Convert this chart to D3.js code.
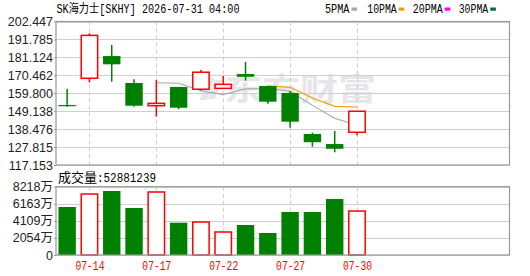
<!DOCTYPE html>
<html><head><meta charset="utf-8">
<script src="https://cdn.jsdelivr.net/npm/d3@7"></script>
<style>
html,body{margin:0;padding:0;background:#fff;}
svg{display:block;}
</style></head>
<body>
<svg id="c" width="530" height="276"></svg>
<script>
const dates  = ["07-13","07-14","07-15","07-16","07-17","07-20","07-21","07-22","07-23","07-24","07-27","07-28","07-29","07-30"];
const open   = [152.8,168.7,181.9,165.9,152.4,163.5,162.2,162.7,171.2,164.1,160.0,135.6,129.6,136.6];
const close  = [152.5,194.2,177.0,152.4,153.8,151.2,172.3,165.1,169.6,154.8,142.9,130.7,126.8,149.1];
const high   = [162.3,195.4,188.5,168.1,167.7,163.6,173.6,170.1,178.4,164.3,161.1,136.4,137.4,149.1];
const low    = [151.8,166.3,166.7,151.8,145.9,150.3,161.3,162.7,167.3,153.6,139.3,128.0,124.7,134.8];
const volume = [5775,7339,7700,5655,7580,3886,3970,2767,3609,2647,5173,5173,6737,5288]; // 万
const ma5    = [null,null,null,null,166.0,165.7,161.3,159.0,162.4,162.6,160.9,152.6,145.0,140.8];
const ma10   = [null,null,null,null,null,null,null,null,null,164.3,163.3,157.0,152.0,151.6];
const priceTicks = [117.153,127.815,138.476,149.138,159.800,170.462,181.124,191.785,202.447];
const volTicks = [0,2054,4109,6163,8218];
const dateTicks = ["07-14","07-17","07-22","07-27","07-30"];
const title = "SK海力士[SKHY] 2026-07-31 04:00";
const volLabel = "成交量:52881239";
const legend = [{n:"5PMA",c:"#a6a6a6"},{n:"10PMA",c:"#f0a000"},{n:"20PMA",c:"#ff00ff"},{n:"30PMA",c:"#006f3c"}];

const svg = d3.select("#c");
const L = 56, R = 509.5, T = 21.5, B = 165, VT = 186.7, VB = 255;
const RED = "#ff0000", GREEN = "#008000";
const mono = "'Liberation Mono','Noto Sans CJK SC',monospace";

const x = d3.scaleLinear().domain([-0.5, 19.84]).range([L, R]);
const y = d3.scaleLinear().domain([priceTicks[0], priceTicks[priceTicks.length-1]]).range([B, T]);
const yv = d3.scaleLinear().domain([0, volTicks[volTicks.length-1]]).range([VB, VT]);
const bw = 16.4;
const idx = d3.range(dates.length);

// Title
svg.append("text").attr("x",56.5).attr("y",13).attr("font-family",mono).attr("font-size",12)
  .attr("textLength",183).attr("lengthAdjust","spacingAndGlyphs").attr("fill","#000").text(title);

// Legend
const legX = [325,367.3,412.7,458.7], legW=[24.5,29.4,30,29.6];
legend.forEach((d,i)=>{
  svg.append("text").attr("x",legX[i]).attr("y",13).attr("font-family",mono).attr("font-size",12)
    .attr("textLength",legW[i]).attr("lengthAdjust","spacingAndGlyphs").attr("fill","#000").text(d.n);
  svg.append("rect").attr("x",legX[i]+legW[i]+2).attr("y",7.5).attr("width",5.6).attr("height",3.2).attr("fill",d.c);
});

// Watermark
svg.append("path").attr("d","M206,78 L214,78 L207,100 L200,100 Z M214,80 L222,80 L215,99 L208,99 Z")
  .attr("fill","#e6e6ea");
svg.append("text").attr("x",224).attr("y",100).attr("font-family","'Noto Sans CJK SC'").attr("font-weight","bold")
  .attr("font-size",31).attr("textLength",152).attr("lengthAdjust","spacingAndGlyphs").attr("fill","#e6e6ea").text("东方财富");

// Price grid
const gp = svg.append("g");
gp.selectAll("line.h").data(priceTicks).join("line")
  .attr("x1",L).attr("x2",R).attr("y1",d=>Math.round(y(d))+0.5).attr("y2",d=>Math.round(y(d))+0.5)
  .attr("stroke","#cfcfcf").attr("stroke-width",1);
const tickIdx = dateTicks.map(d=>dates.indexOf(d));
gp.selectAll("line.v").data(tickIdx).join("line")
  .attr("x1",d=>Math.round(x(d))+0.5).attr("x2",d=>Math.round(x(d))+0.5).attr("y1",T).attr("y2",B)
  .attr("stroke","#cfcfcf").attr("stroke-dasharray","4,3");
svg.append("rect").attr("x",L).attr("y",T).attr("width",R-L).attr("height",B-T)
  .attr("fill","none").attr("stroke","#999").attr("stroke-width",1.2);

// Price axis labels
const ay = d3.axisLeft(y).tickValues(priceTicks).tickFormat(d3.format(".3f")).tickSize(2).tickPadding(1);
const gax = svg.append("g").attr("transform",`translate(${L},0)`).call(ay);
gax.select(".domain").remove();
gax.selectAll("text").attr("font-family","'Liberation Sans',Arial,sans-serif").attr("font-size",12.5).attr("fill","#222");
gax.selectAll("line").attr("stroke","#999");

// MA lines
const line = d3.line().defined(d=>d[1]!=null).x(d=>x(d[0])).y(d=>y(d[1]));
svg.append("path").datum(idx.map(i=>[i,ma5[i]])).attr("d",line).attr("fill","none").attr("stroke","#a6a6a6").attr("stroke-width",1.1);
svg.append("path").datum(idx.map(i=>[i,ma10[i]])).attr("d",line).attr("fill","none").attr("stroke","#f0a000").attr("stroke-width",1.1);

// Candles
const cg = svg.append("g");
idx.forEach(i=>{
  const up = close[i] > open[i];
  const col = up ? RED : GREEN;
  const cx = x(i);
  const top = y(Math.max(open[i],close[i])), bot = y(Math.min(open[i],close[i]));
  const h = Math.max(1.2, bot-top);
  if (up) {
    cg.append("line").attr("x1",cx).attr("x2",cx).attr("y1",y(high[i])).attr("y2",top).attr("stroke",col).attr("stroke-width",1.5);
    cg.append("line").attr("x1",cx).attr("x2",cx).attr("y1",bot).attr("y2",y(low[i])).attr("stroke",col).attr("stroke-width",1.5);
    cg.append("rect").attr("x",cx-bw/2).attr("y",top).attr("width",bw).attr("height",h)
      .attr("fill","#fff").attr("stroke",col).attr("stroke-width",1.5);
  } else {
    cg.append("line").attr("x1",cx).attr("x2",cx).attr("y1",y(high[i])).attr("y2",y(low[i])).attr("stroke",col).attr("stroke-width",1.5);
    cg.append("rect").attr("x",cx-bw/2-0.5).attr("y",top).attr("width",bw+1).attr("height",h).attr("fill",col);
  }
});

// Volume label
svg.append("text").attr("x",58).attr("y",182).attr("font-family","'Noto Sans CJK SC',sans-serif").attr("font-size",13)
  .attr("fill","#000").text(volLabel.split(":")[0]);
svg.append("text").attr("x",97).attr("y",182).attr("font-family",mono).attr("font-size",12)
  .attr("textLength",59).attr("lengthAdjust","spacingAndGlyphs").attr("fill","#000").text(":"+volLabel.split(":")[1]);

// Volume grid
const gv = svg.append("g");
gv.selectAll("line.h").data(volTicks).join("line")
  .attr("x1",L).attr("x2",R).attr("y1",d=>Math.round(yv(d))+0.5).attr("y2",d=>Math.round(yv(d))+0.5)
  .attr("stroke","#cfcfcf");
gv.selectAll("line.v").data(tickIdx).join("line")
  .attr("x1",d=>Math.round(x(d))+0.5).attr("x2",d=>Math.round(x(d))+0.5).attr("y1",VT).attr("y2",VB)
  .attr("stroke","#cfcfcf").attr("stroke-dasharray","4,3");

// Volume bars
idx.forEach(i=>{
  const up = close[i] > open[i];
  const cx = x(i);
  if (up) {
    svg.append("rect").attr("x",cx-bw/2).attr("y",yv(volume[i])).attr("width",bw).attr("height",VB-yv(volume[i]))
      .attr("fill","#fff").attr("stroke",RED).attr("stroke-width",1.5);
  } else {
    svg.append("rect").attr("x",cx-bw/2-0.5).attr("y",yv(volume[i])).attr("width",bw+1).attr("height",VB-yv(volume[i]))
      .attr("fill",GREEN);
  }
});
svg.append("rect").attr("x",L).attr("y",VT).attr("width",R-L).attr("height",VB-VT)
  .attr("fill","none").attr("stroke","#999").attr("stroke-width",1.2);

// Volume axis
const av = d3.axisLeft(yv).tickValues(volTicks).tickFormat(d=>d===0?"0":d+"万").tickSize(2).tickPadding(1);
const gav = svg.append("g").attr("transform",`translate(${L},0)`).call(av);
gav.select(".domain").remove();
gav.selectAll("text").attr("font-family","'Liberation Sans','Noto Sans CJK SC',sans-serif").attr("font-size",12.5).attr("fill","#222");
gav.selectAll("line").attr("stroke","#999");

// Date labels
const ax = d3.axisBottom(x).tickValues(tickIdx).tickFormat(i=>dates[i]).tickSize(0).tickPadding(6);
const gdx = svg.append("g").attr("transform",`translate(0,${VB})`).call(ax);
gdx.select(".domain").remove();
gdx.selectAll("text").attr("font-family",mono).attr("font-size",12).attr("fill",RED)
  .attr("textLength",29).attr("lengthAdjust","spacingAndGlyphs");
</script>
</body></html>
